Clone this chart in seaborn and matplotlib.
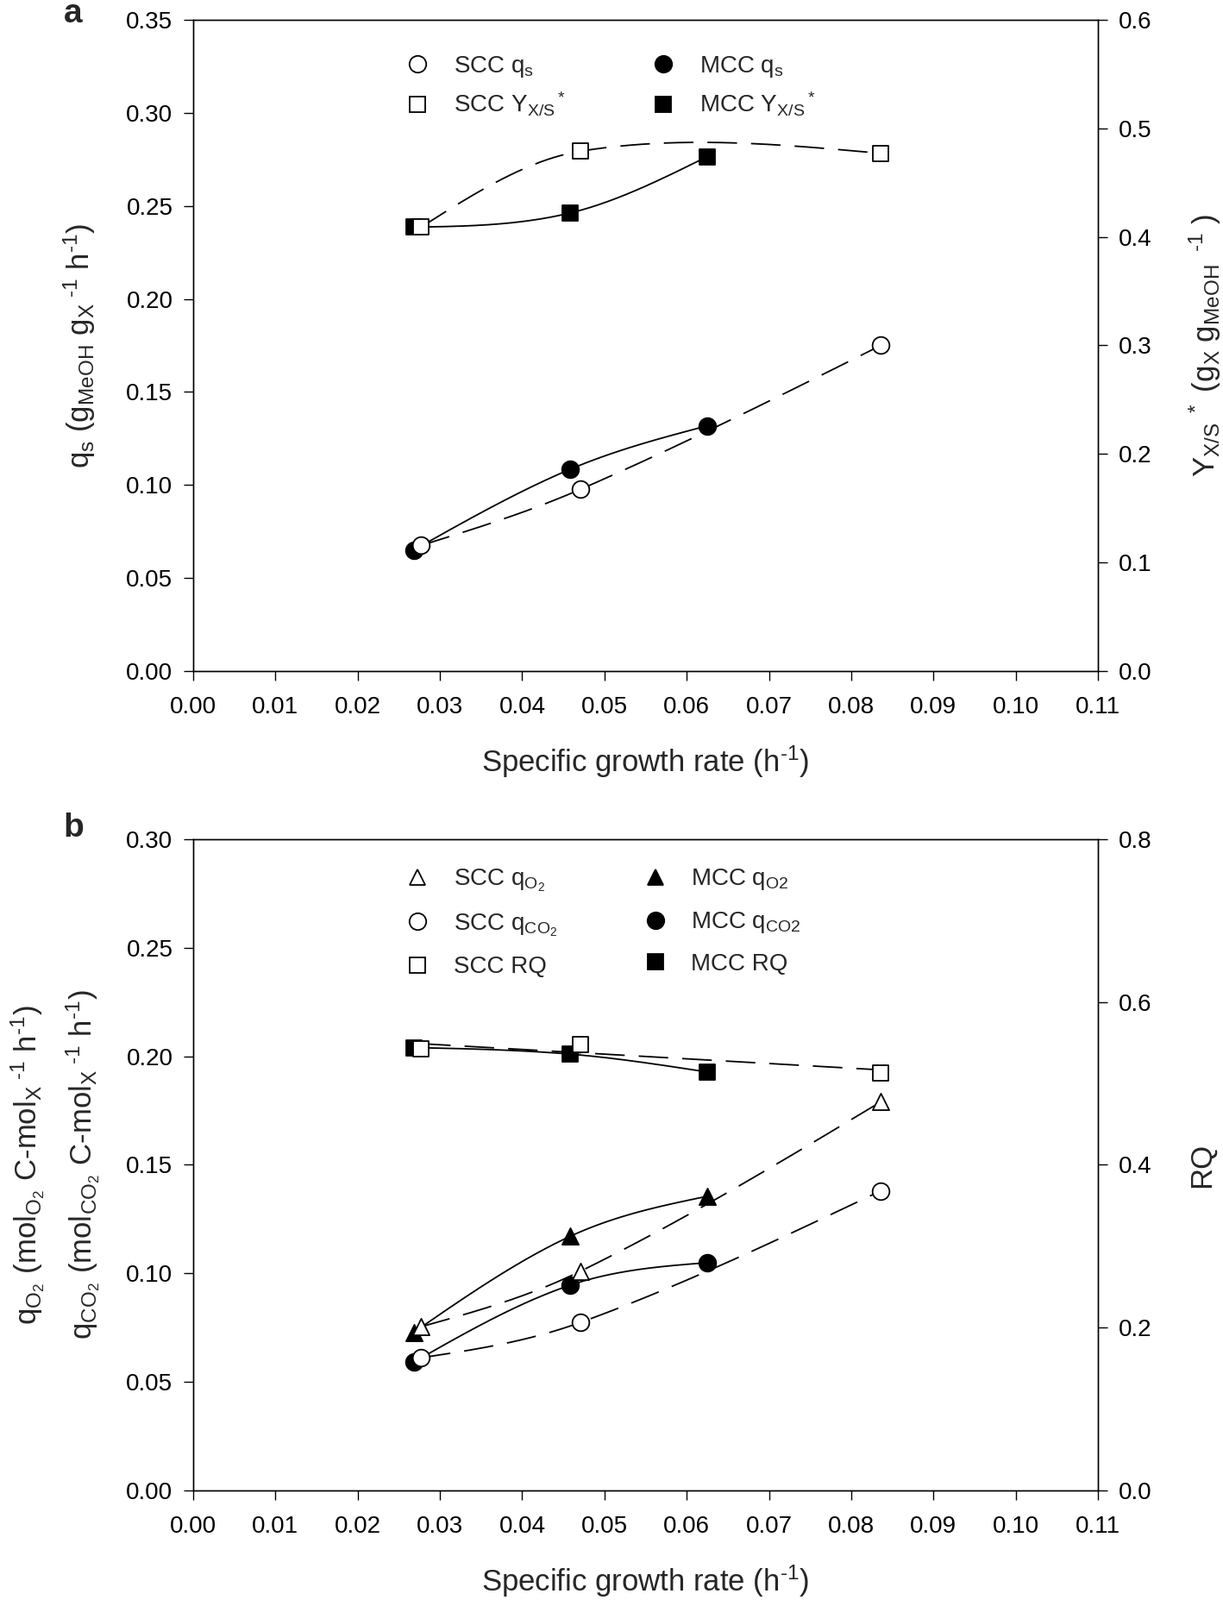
import numpy as np
import seaborn as sns
import matplotlib.pyplot as plt
from matplotlib.lines import Line2D

sns.set_style('ticks')
plt.rcParams['font.family'] = ['Liberation Sans', 'DejaVu Sans']
plt.rcParams['mathtext.fontset'] = 'custom'
plt.rcParams['mathtext.rm'] = 'Liberation Sans'
plt.rcParams['mathtext.it'] = 'Liberation Sans:italic'
plt.rcParams['mathtext.default'] = 'regular'

# growth rates (h-1)
mu_scc = [0.0277, 0.0471, 0.0836]
mu_mcc = [0.0268, 0.0458, 0.0625]

# panel a
qs_scc = [0.0675, 0.0977, 0.175]
qs_mcc = [0.065, 0.1084, 0.1318]
yxs_scc = [0.409, 0.479, 0.477]
yxs_mcc = [0.409, 0.422, 0.474]

# panel b
qo2_scc = [0.0754, 0.101, 0.179]
qo2_mcc = [0.0728, 0.117, 0.1355]
qco2_scc = [0.0611, 0.0774, 0.138]
qco2_mcc = [0.0591, 0.0945, 0.1049]
rq_scc = [0.542, 0.548, 0.513]
rq_mcc = [0.544, 0.536, 0.514]

x_ticks = np.arange(0, 0.111, 0.01)

TICK_FS = 20
LABEL_FS = 25
LW = 1.3
DASH = (0, (19, 9))
HY = '\u2010'   # short hyphen used in the exponents


def spline(x, y, n=300):
    # cubic Hermite curve, secant slopes inside, natural ends
    x = np.asarray(x, float)
    y = np.asarray(y, float)
    h = np.diff(x)
    d = np.diff(y) / h
    m = np.zeros(len(x))
    m[1:-1] = (y[2:] - y[:-2]) / (x[2:] - x[:-2])
    m[0] = (3 * d[0] - m[1]) / 2
    m[-1] = (3 * d[-1] - m[-2]) / 2
    xs = np.linspace(x[0], x[-1], n)
    k = np.clip(np.searchsorted(x, xs) - 1, 0, len(x) - 2)
    s = (xs - x[k]) / h[k]
    ys = ((2 * s ** 3 - 3 * s ** 2 + 1) * y[k] + (s ** 3 - 2 * s ** 2 + s) * h[k] * m[k]
          + (-2 * s ** 3 + 3 * s ** 2) * y[k + 1] + (s ** 3 - s ** 2) * h[k] * m[k + 1])
    return xs, ys


def fit_line(x, y, n=50):
    slope, icpt = np.polyfit(x, y, 1)
    xs = np.linspace(min(x), max(x), n)
    return xs, slope * xs + icpt


def series(ax, mu, vals, marker, filled, size, linear=False):
    xs, ys = fit_line(mu, vals) if linear else spline(mu, vals)
    ls = '-' if filled else DASH
    sns.lineplot(x=xs, y=ys, ax=ax, color='black', linewidth=LW,
                 linestyle=ls, estimator=None, sort=False, zorder=2)
    sns.scatterplot(x=mu, y=vals, ax=ax, marker=marker, s=size,
                    color='black' if filled else 'white',
                    edgecolor='black', linewidth=LW, zorder=3 if filled else 4)


def style_axes(ax, ax2, ymax, ystep, fmt, ymax2, ystep2, fmt2):
    ax.set_xlim(0, 0.11)
    ax.set_xticks(x_ticks)
    ax.set_xticklabels(['%.2f' % v for v in x_ticks])
    ax.set_ylim(0, ymax)
    yt = np.arange(0, ymax + 1e-9, ystep)
    ax.set_yticks(yt)
    ax.set_yticklabels([fmt % v for v in yt])
    ax2.set_ylim(0, ymax2)
    yt2 = np.arange(0, ymax2 + 1e-9, ystep2)
    ax2.set_yticks(yt2)
    ax2.set_yticklabels([fmt2 % v for v in yt2])
    for a in (ax, ax2):
        for s in a.spines.values():
            s.set_linewidth(1.0)
            s.set_color('black')
    ax.tick_params(axis='both', direction='out', length=8, width=1.0,
                   labelsize=TICK_FS, colors='black', top=False, right=False)
    ax.tick_params(axis='x', pad=13)
    ax.tick_params(axis='y', pad=9)
    ax2.tick_params(axis='y', direction='out', length=8, width=1.0,
                    labelsize=TICK_FS, colors='black', pad=9)
    ax.set_xlabel('Specific growth rate (h$^{' + HY + '1}$)', fontsize=LABEL_FS, labelpad=21)


def handle(marker, filled, size):
    return Line2D([], [], ls='none', marker=marker, markersize=size,
                  markerfacecolor='black' if filled else 'white',
                  markeredgecolor='black', markeredgewidth=LW)


fig = plt.figure(figsize=(14.18, 18.55), dpi=100)
ax_a = fig.add_axes([0.158, 0.5806, 0.7397, 0.407])
ax_b = fig.add_axes([0.158, 0.0685, 0.7397, 0.407])
ax_a2 = ax_a.twinx()
ax_b2 = ax_b.twinx()

CIRC = 200
SQ = 160
TRI = 190

# panel a
series(ax_a, mu_mcc, qs_mcc, 'o', True, CIRC)
series(ax_a, mu_scc, qs_scc, 'o', False, CIRC)
series(ax_a2, mu_mcc, yxs_mcc, 's', True, SQ)
series(ax_a2, mu_scc, yxs_scc, 's', False, SQ)
style_axes(ax_a, ax_a2, 0.35, 0.05, '%.2f', 0.6, 0.1, '%.1f')
ax_a.set_ylabel('q$_s$ (g$_{MeOH}$ g$_X$$^{\\ ' + HY + '1}$ h$^{' + HY + '1}$)',
                fontsize=LABEL_FS, labelpad=24)
ax_a2.set_ylabel('Y$_{X/S}$$^{\\ *}$ (g$_X$ g$_{MeOH}$$^{\\ \\ ' + HY + '1}$ )',
                 fontsize=LABEL_FS, rotation=90, labelpad=30)

h_a = [handle('o', False, 14), handle('s', False, 12.5),
       handle('o', True, 14), handle('s', True, 12.5)]
l_a = ['SCC q$_s$', 'SCC Y$_{X/S}$$^*$', 'MCC q$_s$', 'MCC Y$_{X/S}$$^*$']
ax_a2.legend(h_a, l_a, ncol=2, frameon=False, loc='upper left',
             bbox_to_anchor=(0.2345, 0.947), fontsize=TICK_FS, handlelength=1.0,
             handletextpad=1.0, columnspacing=3.6, labelspacing=0.45,
             borderpad=0, borderaxespad=0)

# panel b
series(ax_b, mu_mcc, qo2_mcc, '^', True, TRI)
series(ax_b, mu_scc, qo2_scc, '^', False, TRI)
series(ax_b, mu_mcc, qco2_mcc, 'o', True, CIRC)
series(ax_b, mu_scc, qco2_scc, 'o', False, CIRC)
series(ax_b2, mu_mcc, rq_mcc, 's', True, SQ)
series(ax_b2, mu_scc, rq_scc, 's', False, SQ, linear=True)
style_axes(ax_b, ax_b2, 0.30, 0.05, '%.2f', 0.8, 0.2, '%.1f')
ax_b.set_ylabel('q$_{O_2}$ (mol$_{O_2}$ C-mol$_X$$^{\\ ' + HY + '1}$ h$^{' + HY + '1}$)\n'
                'q$_{CO_2}$ (mol$_{CO_2}$ C-mol$_X$$^{\\ ' + HY + '1}$ h$^{' + HY + '1}$)',
                fontsize=LABEL_FS, labelpad=20, linespacing=1.6)
ax_b2.set_ylabel('RQ', fontsize=LABEL_FS, rotation=90, labelpad=30)

h_b = [handle('^', False, 13), handle('o', False, 14), handle('s', False, 12.5),
       handle('^', True, 13), handle('o', True, 14), handle('s', True, 12.5)]
l_b = ['SCC q$_{O_2}$', 'SCC q$_{CO_2}$', 'SCC RQ',
       'MCC q$_{O2}$', 'MCC q$_{CO2}$', 'MCC RQ']
ax_b2.legend(h_b, l_b, ncol=2, frameon=False, loc='upper left',
             bbox_to_anchor=(0.2345, 0.957), fontsize=TICK_FS, handlelength=1.0,
             handletextpad=1.0, columnspacing=3.6, labelspacing=0.75,
             borderpad=0, borderaxespad=0)

fig.text(85 / 1418, 1 - 16 / 1855, 'a', fontsize=28, fontweight='bold', ha='center', va='center')
fig.text(85 / 1418, 1 - 960 / 1855, 'b', fontsize=28, fontweight='bold', ha='center', va='center')

fig.savefig('out.png', dpi=100, facecolor='white')
